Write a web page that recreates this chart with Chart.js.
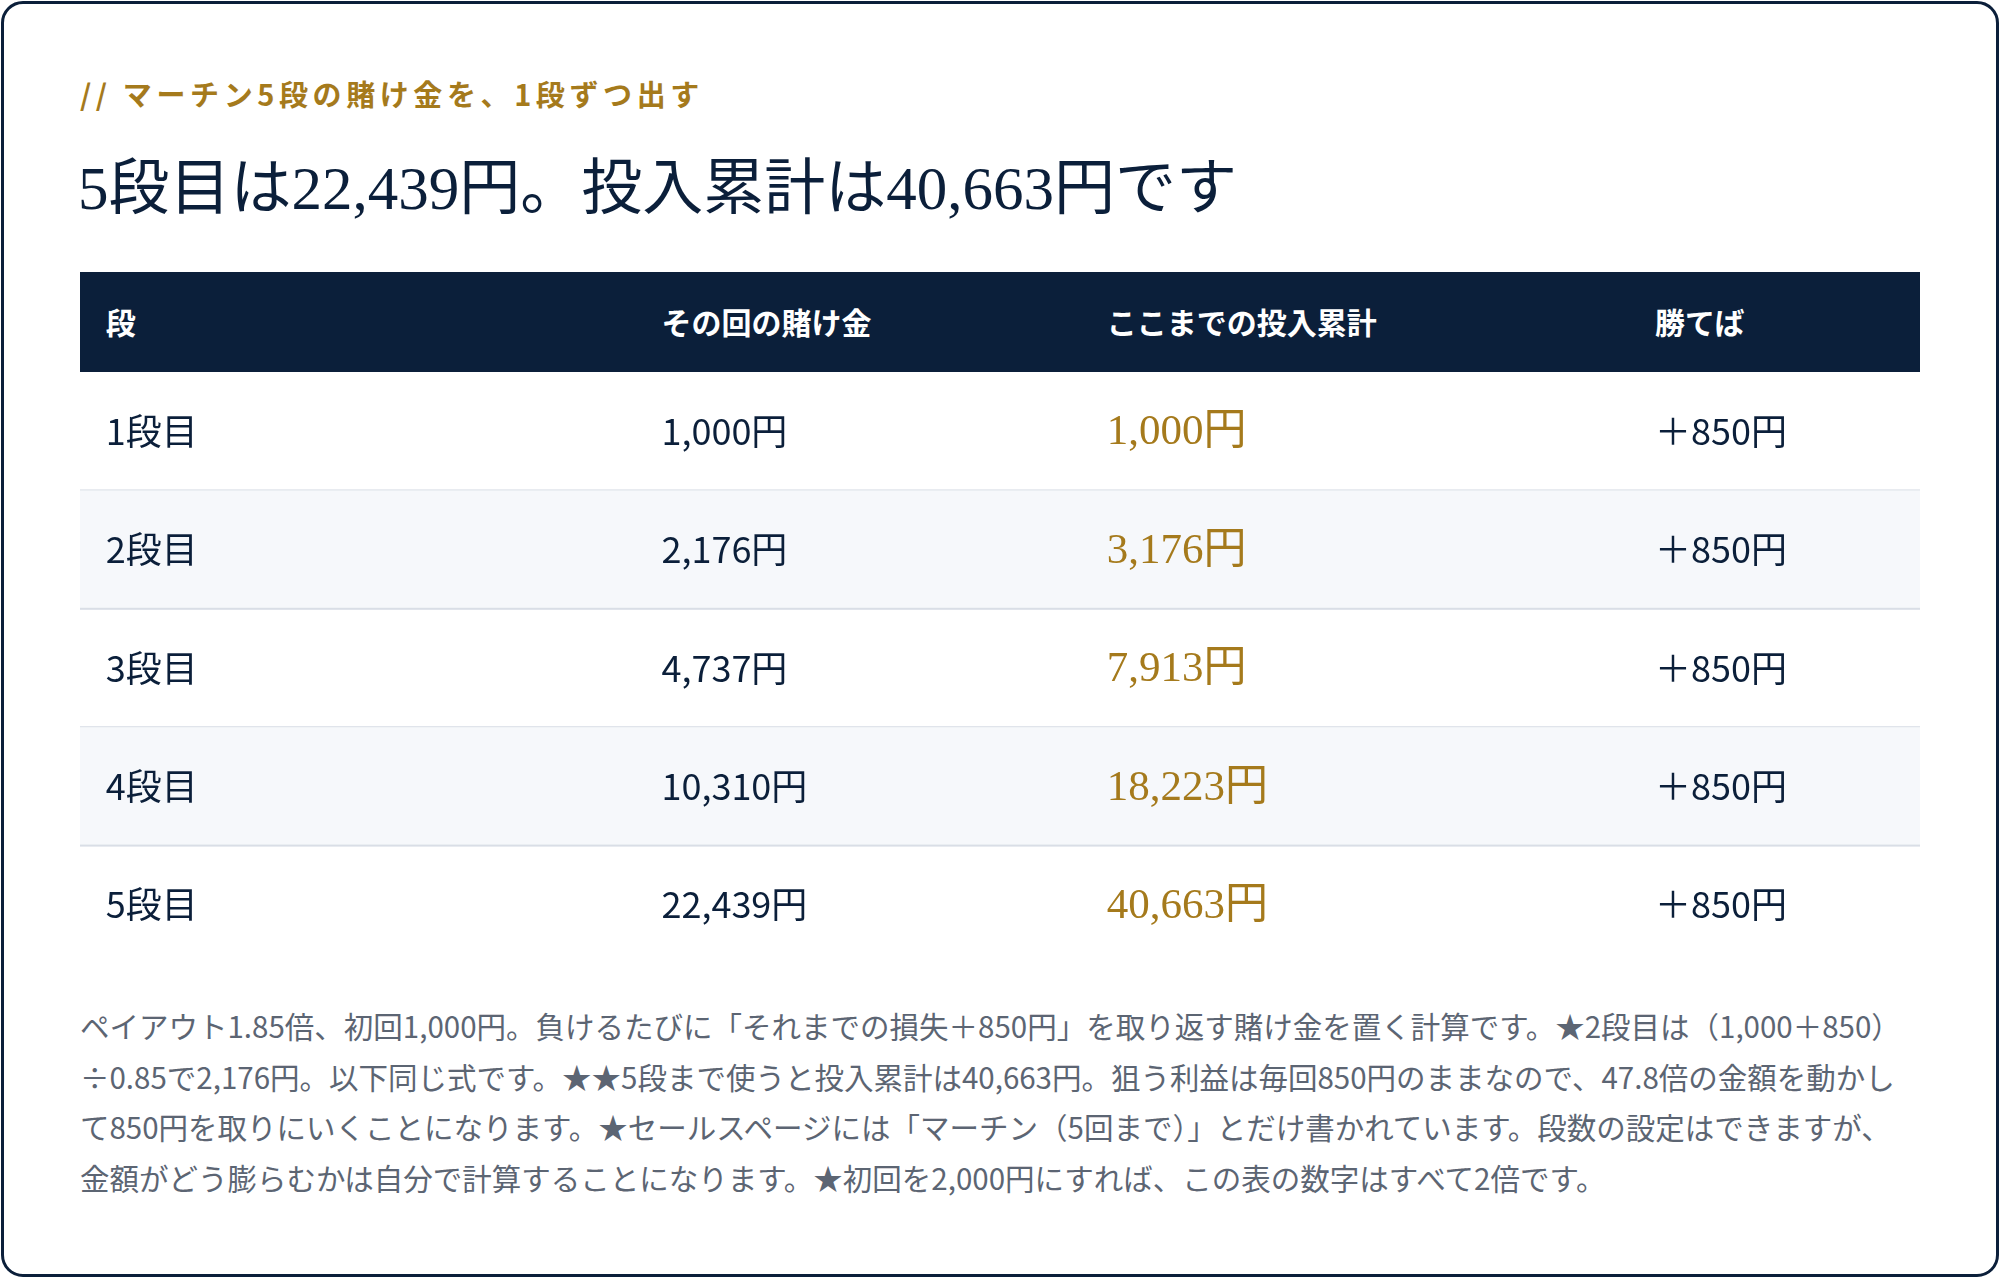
<!DOCTYPE html>
<html lang="ja">
<head>
<meta charset="utf-8">
<script src="https://cdn.jsdelivr.net/npm/chart.js@4/dist/chart.umd.min.js"></script>
<style>
  html, body { margin: 0; padding: 0; background: #fff; }
  body { width: 2000px; height: 1278px; position: relative; font-family: "Noto Sans CJK JP", "Noto Sans", sans-serif; }
  .card { position: absolute; left: 1px; top: 1px; width: 1992px; height: 1270px; border: 3px solid #0b1f3a; border-radius: 22px; }
  .kicker { position: absolute; left: 80px; top: 72px; font-size: 29px; font-weight: 700; color: #a57a1c; letter-spacing: 4.6px; }
  .title { position: absolute; left: 78px; top: 138px; font-size: 61px; color: #0b1f3a; font-family: "Liberation Serif", "DejaVu Serif", "Noto Sans CJK JP", serif; }
  .head { position: absolute; left: 80px; top: 272px; width: 1840px; height: 100px; background: #0b1f3a; color: #fff; font-weight: 700; font-size: 30px; }
  .head span { position: absolute; top: 27px; }
  #wrap { position: absolute; left: 80px; top: 372px; width: 1840px; height: 592px; }
  .note { position: absolute; left: 80px; top: 1000px; width: 1840px; font-size: 29.5px; line-height: 50.5px; color: #5c6573; }
</style>
</head>
<body>
<div class="card"></div>
<div class="kicker">// マーチン5段の賭け金を、1段ずつ出す</div>
<div class="title">5段目は22,439円。投入累計は40,663円です</div>
<div class="head" id="head"></div>
<div id="wrap"><canvas id="tabla"></canvas></div>
<div class="note">ペイアウト1.85倍、初回1,000円。負けるたびに「それまでの損失＋850円」を取り返す賭け金を置く計算です。★2段目は（1,000＋850）÷0.85で2,176円。以下同じ式です。★★5段まで使うと投入累計は40,663円。狙う利益は毎回850円のままなので、47.8倍の金額を動かして850円を取りにいくことになります。★セールスページには「マーチン（5回まで）」とだけ書かれています。段数の設定はできますが、金額がどう膨らむかは自分で計算することになります。★初回を2,000円にすれば、この表の数字はすべて2倍です。</div>
<script>
// Datos de la tabla
const columnas = ['段', 'その回の賭け金', 'ここまでの投入累計', '勝てば'];
const etapas = ['1段目', '2段目', '3段目', '4段目', '5段目'];
const apuestas = [1000, 2176, 4737, 10310, 22439];
const acumulado = [1000, 3176, 7913, 18223, 40663];
const ganancia = [850, 850, 850, 850, 850];

// Posición de cada columna en la escala x (0..100)
const colX = [1.4, 31.6, 55.8, 85.6];

const head = document.getElementById('head');
columnas.forEach((c, i) => {
    const s = document.createElement('span');
    s.textContent = c;
    s.style.left = (colX[i] / 100 * 1840) + 'px';
    head.appendChild(s);
});

const yen = v => v.toLocaleString('en-US') + '円';

const pluginTabla = {
    id: 'tabla',
    beforeDraw(chart) {
        const ctx = chart.ctx;
        const xs = chart.scales.x, ys = chart.scales.y;
        const left = xs.getPixelForValue(0), right = xs.getPixelForValue(100);
        const paso = ys.getPixelForValue(1) - ys.getPixelForValue(0);
        ctx.save();
        etapas.forEach((e, i) => {
            const yc = ys.getPixelForValue(i);
            const top = yc - paso / 2;
            if (i % 2 === 1) {
                ctx.fillStyle = '#f6f8fb';
                ctx.fillRect(left, top, right - left, paso);
            }
            if (i < etapas.length - 1) {
                ctx.fillStyle = '#d9dee6';
                ctx.fillRect(left, top + paso - 1, right - left, 2);
            }
            ctx.textBaseline = 'middle';
            ctx.fillStyle = '#0b1f3a';
            ctx.font = '36px "Noto Sans CJK JP", sans-serif';
            ctx.fillText(e, xs.getPixelForValue(colX[0]), yc);
            ctx.fillText(yen(apuestas[i]), xs.getPixelForValue(colX[1]), yc);
            ctx.fillText('＋' + yen(ganancia[i]), xs.getPixelForValue(colX[3]), yc);
            ctx.fillStyle = '#a57a1c';
            ctx.font = '43px "Liberation Serif", "DejaVu Serif", "Noto Sans CJK JP", serif';
            ctx.fillText(yen(acumulado[i]), xs.getPixelForValue(colX[2]), yc + 2);
        });
        ctx.restore();
    }
};

new Chart(document.getElementById('tabla'), {
    type: 'line',
    data: { labels: etapas, datasets: [] },
    options: {
        responsive: true,
        maintainAspectRatio: false,
        animation: false,
        layout: { padding: 0 },
        plugins: { legend: { display: false }, tooltip: { enabled: false } },
        scales: {
            x: { type: 'linear', min: 0, max: 100, offset: false, display: false },
            y: { type: 'category', offset: true, display: false }
        }
    },
    plugins: [pluginTabla]
});
</script>
</body>
</html>
